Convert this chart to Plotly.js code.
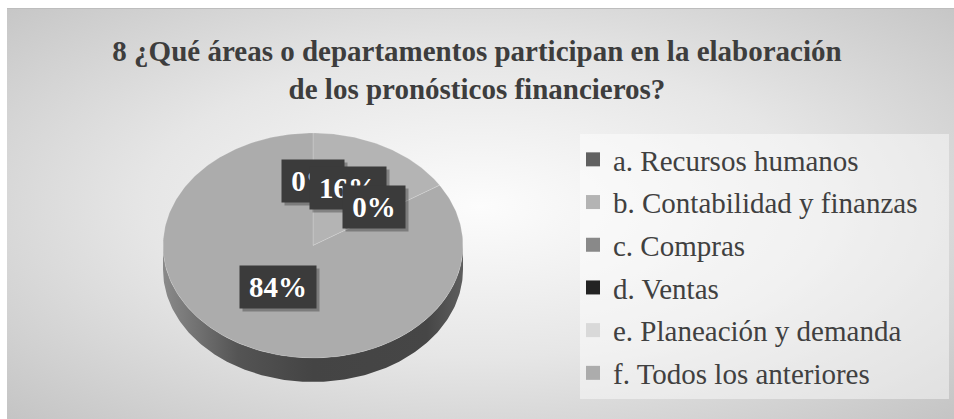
<!DOCTYPE html>
<html><head><meta charset="utf-8">
<script src="https://cdn.plot.ly/plotly-3.0.1.min.js"></script>
<style>
html,body{margin:0;padding:0;background:#fff;}
#wrap{position:relative;width:954px;height:419px;overflow:hidden;}
#bg{position:absolute;left:7px;top:8px;width:947px;height:411px;
 background:radial-gradient(ellipse farthest-corner at 50% 48%, #fcfcfc 0%, #e6e6e6 50%, #c4c4c4 100%);
 border-top:1px solid #bdbdbd;}
#chart{position:absolute;left:0;top:0;width:954px;height:419px;}
</style></head><body>
<div id="wrap"><div id="bg"></div><div id="chart"></div></div>
<script>
// ---- data ----
const categories = ['a. Recursos humanos', 'b. Contabilidad y finanzas', 'c. Compras', 'd. Ventas', 'e. Planeación y demanda', 'f. Todos los anteriores'];
const values = [0, 16, 0, null, null, 84];
const colors = ['#616161', '#b4b4b4', '#898989', '#232323', '#d9d9d9', '#acacac'];
const titleText = '8 ¿Qué áreas o departamentos participan en la elaboración<br>de los pronósticos financieros?';

// ---- geometry (layout constants) ----
const W = 954, H = 419;
const CX = 313, CY = 245.5, RX = 150, RY = 112.5, THICK = 24;
const T = THICK / RY;
const xDom = [(CX - RX) / W, (CX + RX) / W];
const yDom = [1 - (CY + RY + THICK) / H, 1 - (CY - RY) / H];
const SERIF = 'Liberation Serif, Times New Roman, serif';

const rad = d => d * Math.PI / 180;
const total = values.reduce((s, v) => s + (v || 0), 0);

const traces = [];
const annotations = [];
let acc = 0;
const sliceInfo = [];
values.forEach((v, i) => {
  const val = v || 0;
  const a0 = acc / total * 360;
  acc += val;
  const a1 = acc / total * 360;
  sliceInfo.push({a0, a1, val, i});
});

// side bands
sliceInfo.forEach(s => {
  if (s.val <= 0) return;
  const lo = Math.max(s.a0, 90), hi = Math.min(s.a1, 270);
  if (hi <= lo) return;
  const xs = [], ys = [];
  for (let d = lo; d <= hi; d += 1) { xs.push(Math.sin(rad(d))); ys.push(Math.cos(rad(d))); }
  xs.push(Math.sin(rad(hi))); ys.push(Math.cos(rad(hi)));
  for (let d = hi; d >= lo; d -= 1) { xs.push(Math.sin(rad(d))); ys.push(Math.cos(rad(d)) - T); }
  xs.push(Math.sin(rad(lo))); ys.push(Math.cos(rad(lo)) - T);
  traces.push({
    type: 'scatter', mode: 'lines', x: xs, y: ys, fill: 'toself',
    line: {width: 0, color: 'rgba(0,0,0,0)'},
    fillgradient: {type: 'horizontal', colorscale: [[0, '#8a8a8a'], [0.25, '#545454'], [0.5, '#444444'], [0.88, '#464646'], [1, '#5e5e5e']]},
    showlegend: false, hoverinfo: 'skip'
  });
});

// top faces
sliceInfo.forEach(s => {
  if (s.val <= 0) return;
  const xs = [0], ys = [0];
  for (let d = s.a0; d < s.a1; d += 1) { xs.push(Math.sin(rad(d))); ys.push(Math.cos(rad(d))); }
  xs.push(Math.sin(rad(s.a1))); ys.push(Math.cos(rad(s.a1)));
  xs.push(0); ys.push(0);
  traces.push({
    type: 'scatter', mode: 'lines', x: xs, y: ys, fill: 'toself',
    fillcolor: colors[s.i], line: {width: 0.8, color: 'rgba(255,255,255,0.22)'},
    showlegend: false, hoverinfo: 'skip'
  });
});

// legend entries
categories.forEach((c, i) => {
  traces.push({
    type: 'scatter', mode: 'markers', x: [null], y: [null], name: c,
    legendgroup: 'g' + i,
    marker: {symbol: 'square', size: 14, color: colors[i]},
    showlegend: true, hoverinfo: 'skip'
  });
});

// labels
const LBL = 29;
const cnv = document.createElement('canvas').getContext('2d');
cnv.font = 'bold ' + LBL + 'px "Liberation Serif"';
sliceInfo.forEach(s => {
  if (values[s.i] === null) return;
  const mid = (s.a0 + s.a1) / 2;
  const x = 0.483 * Math.sin(rad(mid)), y = 0.502 * Math.cos(rad(mid)) + 0.07;
  const txt = Math.round(s.val / total * 100) + '%';
  const w = Math.round(cnv.measureText(txt).width) + 10;
  annotations.push({x, y, xref: 'x', yref: 'y', text: txt, showarrow: false, xshift: 3, yshift: -3,
    bgcolor: 'rgba(0,0,0,0.28)', width: w, height: 34, borderpad: 4,
    font: {family: SERIF, size: LBL, color: 'rgba(0,0,0,0)', weight: 'bold'}});
  annotations.push({x, y, xref: 'x', yref: 'y', text: txt, showarrow: false,
    bgcolor: '#3b3b3b', width: w, height: 34, borderpad: 4,
    font: {family: SERIF, size: LBL, color: '#ffffff', weight: 'bold'}});
});

const layout = {
  width: W, height: H,
  margin: {l: 0, r: 0, t: 0, b: 0},
  paper_bgcolor: 'rgba(0,0,0,0)', plot_bgcolor: 'rgba(0,0,0,0)',
  title: {text: titleText, x: 0.5, xref: 'paper', xanchor: 'center', y: 1 - 61 / H, yref: 'container', yanchor: 'top',
    font: {family: SERIF, size: 29, color: '#3d3d3d', weight: 'bold'}},
  xaxis: {domain: xDom, range: [-1, 1], visible: false, fixedrange: true},
  yaxis: {domain: yDom, range: [-1 - T, 1], visible: false, fixedrange: true},
  showlegend: true,
  legend: {x: 573 / W, xanchor: 'left', y: 1 - 134 / H, yanchor: 'top', bgcolor: 'rgba(0,0,0,0)',
    font: {family: SERIF, size: 29, color: '#404040'}, tracegroupgap: 2, itemclick: false, itemdoubleclick: false},
  shapes: [{type: 'rect', xref: 'paper', yref: 'paper', x0: 580 / W, x1: 949 / W, y0: 1 - 399 / H, y1: 1 - 134 / H,
    fillcolor: 'rgba(255,255,255,0.45)', line: {width: 0}, layer: 'below'}],
  annotations: annotations
};
Plotly.newPlot('chart', traces, layout, {displayModeBar: false, staticPlot: true});
</script>
</body></html>
